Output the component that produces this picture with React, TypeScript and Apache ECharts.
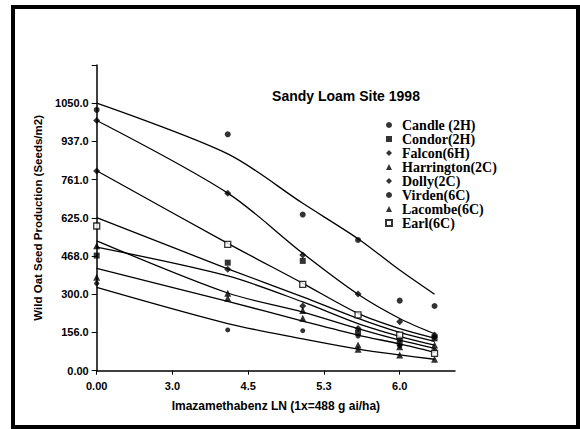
import React, { useEffect, useRef } from "react";
import * as echarts from "echarts";

// x-axis: evenly spaced tick positions and their labels (ln dose)
const DOSE_TICK_LABELS = ["0.00", "3.0", "4.5", "5.3", "6.0"];
// positions of the sampled doses on that axis
const DOSE_POS = [0, 1.73, 2.72, 3.45, 4.0, 4.46];
// y-axis tick labels as printed (ticks are evenly spaced, 150 units apart)
const Y_TICK_LABELS = ["0.00", "156.0", "300.0", "468.0", "625.0", "761.0", "937.0", "1050.0"];

// observed seed production per cultivar
const candle = [1024, 928, 613, 513, 275, 254];
const condor = [452, 424, 431, 149, 108, 127];
const falcon = [982, 697, 454, 301, 192, 140];
const harrington = [490, 304, 236, 101, 94, 101];
const dolly = [784, 398, 254, 166, 123, 132];
const virden = [343, 160, 157, 136, 97, 81];
const lacombe = [367, 284, 206, 84, 62, 45];
const earl = [568, 496, 339, 219, 140, 68];

// fitted curves
const fitA = [1050, 851, 657, 518, 395, 300];
const fitB = [982, 697, 461, 300, 205, 145];
const fitC = [785, 500, 343, 225, 165, 128];
const fitD = [601, 400, 290, 205, 150, 115];
const fitE = [485, 372, 270, 185, 135, 100];
const fitF = [510, 305, 230, 165, 120, 88];
const fitG = [402, 272, 195, 140, 105, 72];
const fitH = [327, 185, 125, 85, 62, 45];

const TITLE = "Sandy Loam Site 1998";

const cultivars = [
  { name: "Candle (2H)", data: candle, symbol: "circle", size: 6, open: false },
  { name: "Condor(2H)", data: condor, symbol: "rect", size: 6, open: false },
  { name: "Falcon(6H)", data: falcon, symbol: "diamond", size: 7, open: false },
  { name: "Harrington(2C)", data: harrington, symbol: "triangle", size: 7, open: false },
  { name: "Dolly(2C)", data: dolly, symbol: "diamond", size: 7, open: false },
  { name: "Virden(6C)", data: virden, symbol: "circle", size: 5, open: false },
  { name: "Lacombe(6C)", data: lacombe, symbol: "triangle", size: 7, open: false },
  { name: "Earl(6C)", data: earl, symbol: "rect", size: 6, open: true },
];

const fits = [fitA, fitB, fitC, fitD, fitE, fitF, fitG, fitH];

export default function App() {
  const ref = useRef<HTMLDivElement>(null);
  useEffect(() => {
    if (!ref.current) return;
    const chart = echarts.init(ref.current, undefined, { renderer: "svg" });
    const sans = "'Liberation Sans', Arial, sans-serif";
    const serif = "'Liberation Serif', 'Times New Roman', serif";
    const lineSeries = fits.map((f) => ({
      type: "line",
      data: f.map((v, i) => [DOSE_POS[i], v]),
      showSymbol: false,
      symbol: "none",
      smooth: 0.3,
      lineStyle: { color: "#000", width: 1.3 },
      silent: true,
      z: 2,
    }));
    const scatterSeries = cultivars.map((c) => ({
      type: "scatter",
      name: c.name,
      symbol: c.symbol,
      symbolSize: c.size,
      data: c.data.map((v, i) => [DOSE_POS[i], v]),
      itemStyle: c.open
        ? { color: "#fff", borderColor: "#000", borderWidth: 1.3 }
        : { color: "#000" },
      z: 3,
    }));
    chart.setOption({
      animation: false,
      backgroundColor: "#fff",
      title: {
        text: TITLE,
        left: 341,
        top: 84,
        textAlign: "center",
        textStyle: { fontFamily: sans, fontWeight: "bold", fontSize: 14, color: "#000" },
      },
      legend: {
        orient: "vertical",
        left: 385,
        top: 118,
        padding: 0,
        itemGap: 0,
        itemWidth: 6,
        itemHeight: 6,
        data: cultivars.map((c) => c.name),
        textStyle: {
          fontFamily: serif,
          fontWeight: "bold",
          fontSize: 14,
          lineHeight: 13.6,
          color: "#000",
          padding: [0, 0, 0, 5],
        },
      },
      grid: { left: 96.7, top: 65, right: 125, bottom: 58.3, containLabel: false },
      xAxis: {
        type: "value",
        min: 0,
        max: 4.73,
        interval: 1,
        name: "Imazamethabenz LN (1x=488 g ai/ha)",
        nameLocation: "middle",
        nameGap: 29,
        nameTextStyle: { fontFamily: sans, fontWeight: "bold", fontSize: 12, color: "#000" },
        axisLine: { show: true, lineStyle: { color: "#000", width: 1.5 } },
        axisTick: { show: true, length: 4, lineStyle: { color: "#000" } },
        splitLine: { show: false },
        axisLabel: {
          margin: 10,
          fontFamily: sans,
          fontWeight: "bold",
          fontSize: 11,
          color: "#000",
          showMaxLabel: false,
          formatter: (v: number) => {
            const i = Math.round(v);
            return Math.abs(v - i) < 1e-6 && i < DOSE_TICK_LABELS.length ? DOSE_TICK_LABELS[i] : "";
          },
        },
      },
      yAxis: {
        type: "value",
        min: 0,
        max: 1200,
        interval: 150,
        name: "Wild Oat Seed Production (Seeds/m2)",
        nameLocation: "middle",
        nameGap: 51,
        nameTextStyle: { fontFamily: sans, fontWeight: "bold", fontSize: 11.5, color: "#000" },
        axisLine: { show: true, lineStyle: { color: "#000", width: 1.5 } },
        axisTick: { show: true, length: 5, lineStyle: { color: "#000" } },
        splitLine: { show: false },
        axisLabel: {
          margin: 8,
          fontFamily: sans,
          fontWeight: "bold",
          fontSize: 11,
          color: "#000",
          formatter: (v: number) => {
            const i = Math.round(v / 150);
            return i < Y_TICK_LABELS.length ? Y_TICK_LABELS[i] : "";
          },
        },
      },
      graphic: [
        {
          type: "rect",
          shape: { x: 13, y: 7, width: 565, height: 420 },
          style: { fill: "none", stroke: "#000", lineWidth: 4 },
          silent: true,
        },
      ],
      series: [...lineSeries, ...scatterSeries],
    });
    return () => chart.dispose();
  }, []);
  return (
    <div
      ref={ref}
      style={{ position: "fixed", left: 0, top: 0, width: 580, height: 429, background: "#fff" }}
    />
  );
}
